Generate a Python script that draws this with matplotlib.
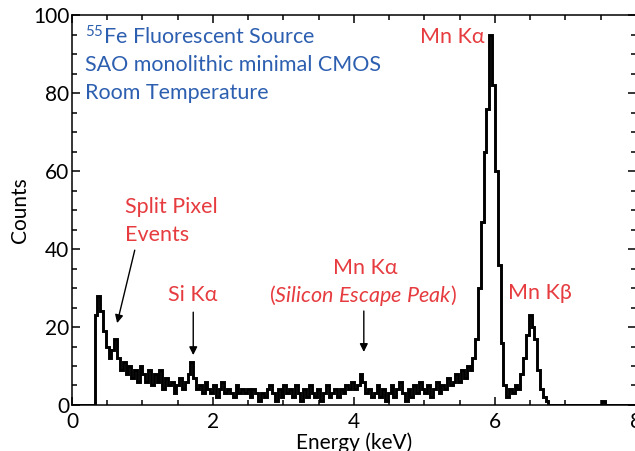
import matplotlib
matplotlib.use('Agg')
import matplotlib.pyplot as plt
from matplotlib.ticker import MultipleLocator
import numpy as np

plt.rcParams['font.family'] = ['Lato', 'DejaVu Sans']
plt.rcParams['mathtext.fontset'] = 'custom'
plt.rcParams['mathtext.rm'] = 'Lato'
plt.rcParams['mathtext.it'] = 'Lato:italic'

# histogram, 0.04 keV bins from 0 to 8 keV
bin_width = 0.04
counts = [
	0, 0, 0, 0, 0, 0, 0, 0, 23, 28,       # 0.00
	24, 19, 15, 12, 14, 17, 12, 9, 11, 8,  # 0.40
	10, 7, 9, 6, 10, 8, 6, 9, 5, 8,        # 0.80
	6, 9, 4, 7, 5, 6, 3, 5, 7, 4,          # 1.20
	6, 8, 11, 7, 4, 5, 3, 6, 4, 3,         # 1.60
	5, 2, 4, 6, 3, 4, 3, 2, 5, 3,          # 2.00
	4, 3, 4, 2, 4, 3, 1, 3, 2, 4,          # 2.40
	5, 3, 1, 4, 2, 5, 3, 4, 2, 5,          # 2.80
	3, 1, 4, 2, 5, 3, 2, 4, 1, 3,          # 3.20
	5, 2, 3, 4, 2, 4, 3, 5, 4, 6,          # 3.60
	4, 5, 8, 6, 3, 4, 2, 3, 5, 2,          # 4.00
	4, 1, 3, 5, 2, 4, 6, 3, 1, 4,          # 4.40
	2, 5, 3, 6, 4, 3, 5, 2, 4, 6,          # 4.80
	3, 5, 4, 7, 5, 6, 8, 6, 9, 7,          # 5.20
	10, 9, 12, 17, 30, 47, 65, 76, 95, 82,  # 5.60
	60, 36, 16, 5, 2, 4, 3, 5, 4, 8,       # 6.00
	12, 18, 23, 20, 17, 9, 4, 2, 1, 0,     # 6.40
	0, 0, 0, 0, 0, 0, 0, 0, 0, 0,          # 6.80
	0, 0, 0, 0, 0, 0, 0, 0, 1, 0,          # 7.20
	0, 0, 0, 0, 0, 0, 0, 0, 0, 0,          # 7.60
]
edges = np.arange(len(counts) + 1) * bin_width

blue = '#2d5fb0'
red = '#e63b3f'

fig = plt.figure(figsize=(6.35, 4.51), dpi=100)
ax = fig.add_axes([0.1134, 0.102, 0.888, 0.8647])

ax.stairs(counts, edges, color='k', lw=2.1)

ax.set_xlim(0, 8)
ax.set_ylim(0, 100)
ax.xaxis.set_major_locator(MultipleLocator(2))
ax.xaxis.set_minor_locator(MultipleLocator(0.5))
ax.yaxis.set_major_locator(MultipleLocator(20))
ax.yaxis.set_minor_locator(MultipleLocator(5))
ax.tick_params(which='both', direction='in', top=True, right=True, labelsize=15, width=1.1)
ax.tick_params(which='major', length=6, pad=2)
ax.tick_params(axis='x', which='major', pad=5)
ax.tick_params(which='minor', length=3.5)
for s in ax.spines.values():
	s.set_linewidth(1.1)

ax.set_xlabel('Energy (keV)', fontsize=15, labelpad=0)
ax.set_ylabel('Counts', fontsize=15, labelpad=2)

fs = 15.5
ax.text(0.18, 94.4, r'$^{55}$Fe Fluorescent Source', color=blue, fontsize=fs, va='center')
ax.text(0.18, 87.2, 'SAO monolithic minimal CMOS', color=blue, fontsize=fs, va='center')
ax.text(0.18, 80.0, 'Room Temperature', color=blue, fontsize=fs, va='center')

ax.text(5.39, 94.4, 'Mn Kα', color=red, fontsize=fs, ha='center', va='center')
ax.text(0.75, 50.8, 'Split Pixel', color=red, fontsize=fs, va='center')
ax.text(0.75, 43.6, 'Events', color=red, fontsize=fs, va='center')
ax.text(1.72, 28.2, 'Si Kα', color=red, fontsize=fs, ha='center', va='center')
ax.text(4.16, 35.1, 'Mn Kα', color=red, fontsize=fs, ha='center', va='center')
ax.text(4.13, 28.2, r'($\mathit{Silicon\ Escape\ Peak}$)', color=red, fontsize=fs,
	ha='center', va='center')
ax.text(6.64, 28.7, 'Mn Kβ', color=red, fontsize=fs, ha='center', va='center')

arrow = dict(arrowstyle='-|>', color='k', lw=1, mutation_scale=12, shrinkA=0, shrinkB=0)
ax.annotate('', xy=(0.64, 21), xytext=(0.89, 39.7), arrowprops=arrow)
ax.annotate('', xy=(1.72, 12.8), xytext=(1.72, 23.8), arrowprops=arrow)
ax.annotate('', xy=(4.14, 13.6), xytext=(4.14, 24.1), arrowprops=arrow)

fig.savefig('out.png', dpi=100)
